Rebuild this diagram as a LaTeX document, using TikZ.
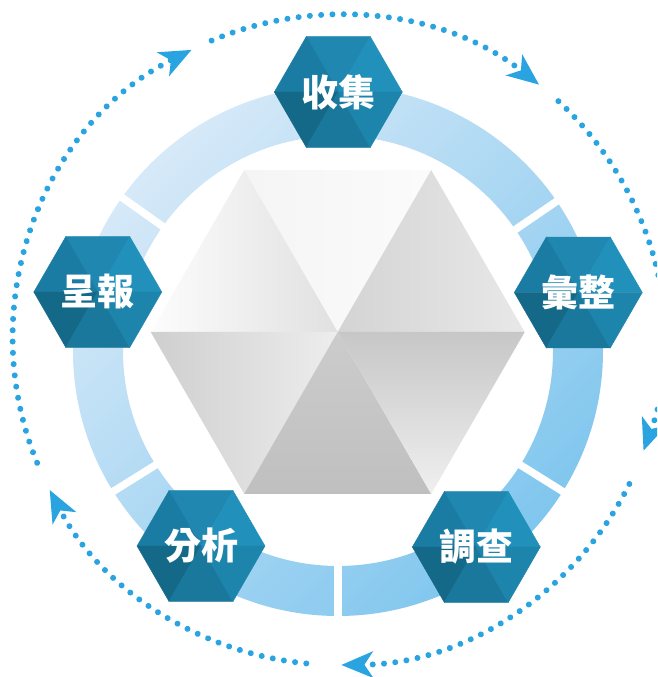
\documentclass[tikz,border=0pt]{standalone}
\usepackage{fontspec}
\newfontfamily\cjk{Noto Sans CJK TC}
\usetikzlibrary{arrows.meta}
\definecolor{dotblue}{HTML}{29A4E0}
\definecolor{ringA}{HTML}{D6E9F8}
\definecolor{ringB}{HTML}{80C6EE}
\definecolor{hT}{HTML}{1F87B0}
\definecolor{hUL}{HTML}{1B7CA3}
\definecolor{hUR}{HTML}{2191BB}
\definecolor{hLL}{HTML}{156988}
\definecolor{hB}{HTML}{19789C}
\definecolor{hLR}{HTML}{1D84AB}
\tikzset{
  dotline/.style={draw=dotblue, line width=6pt, line cap=round,
    dash pattern=on 0.01pt off 11.3pt,
    -{Stealth[length=32pt,width=27pt,inset=9pt,line width=0pt]}},
  gapline/.style={draw=white, line width=7.5pt},
  tri/.style={line width=0.4pt},
  lbl/.style={text=white, font=\cjk\bfseries\fontsize{37}{37}\selectfont, inner sep=0pt},
  hexpic/.pic={
    \fill[hT,draw=hT,tri] (0,0) -- (60:64) -- (120:64) -- cycle;
    \fill[hUL,draw=hUL,tri] (0,0) -- (120:64) -- (180:64) -- cycle;
    \fill[hUR,draw=hUR,tri] (0,0) -- (0:64) -- (60:64) -- cycle;
    \fill[hLL,draw=hLL,tri] (0,0) -- (180:64) -- (240:64) -- cycle;
    \fill[hB,draw=hB,tri] (0,0) -- (240:64) -- (300:64) -- cycle;
    \fill[hLR,draw=hLR,tri] (0,0) -- (300:64) -- (360:64) -- cycle;
  }
}
\begin{document}
\begin{tikzpicture}[x=1pt,y=1pt]
\useasboundingbox (0,0) rectangle (657,677);
\clip (0,0) rectangle (657,677);
\coordinate (rc) at (338,326);
\coordinate (dc) at (338,337);
% ring
\shade[even odd rule, top color=ringA, bottom color=ringB, shading angle=45]
  (rc) circle[radius=265pt] (rc) circle[radius=215pt];
\foreach \a in {34.4,90,144.6,212,270,328}
  \draw[gapline] ([shift={(\a:205pt)}]rc) -- ([shift={(\a:275pt)}]rc);
% dotted arcs
\draw[dotline] ([shift={(112.9:325pt)}]dc) arc[start angle=112.9, end angle=51.8, radius=325pt];
\draw[dotline] ([shift={(47.3:325pt)}]dc) arc[start angle=47.3, end angle=-19.9, radius=325pt];
\draw[dotline] ([shift={(-26.3:325pt)}]dc) arc[start angle=-26.3, end angle=-89.4, radius=325pt];
\draw[dotline] ([shift={(-95.6:325pt)}]dc) arc[start angle=-95.6, end angle=-152.5, radius=325pt];
\draw[dotline] ([shift={(-157.8:325pt)}]dc) arc[start angle=-157.8, end angle=-243.2, radius=325pt];
% big hexagon
\begin{scope}[shift={(337.7,345)}]
  \shade[left color=gray!8, right color=gray!3] (0,0) -- (60:187) -- (120:187) -- cycle;
  \shade[left color=black!1, right color=black!12] (0,0) -- (120:187) -- (180:187) -- cycle;
  \shade[left color=black!17, right color=black!9] (0,0) -- (0:187) -- (60:187) -- cycle;
  \shade[left color=black!19, right color=black!7] (0,0) -- (180:187) -- (240:187) -- cycle;
  \shade[top color=black!20, bottom color=black!25] (0,0) -- (240:187) -- (300:187) -- cycle;
  \shade[top color=black!22, bottom color=black!6] (0,0) -- (300:187) -- (360:187) -- cycle;
\end{scope}
% small hexagons
\pic at (338.3,585) {hexpic};
\pic at (578.3,384.5) {hexpic};
\pic at (476.3,130) {hexpic};
\pic at (201,131) {hexpic};
\pic at (97.8,385) {hexpic};
\node[lbl] (shouji) at (338.3,585) {收集};
\node[lbl] (huizheng) at (578.3,384.5) {彙整};
\node[lbl] (diaocha) at (476.3,130) {調查};
\node[lbl] (fenxi) at (201,131) {分析};
\node[lbl] (chengbao) at (97.8,385) {呈報};
\end{tikzpicture}
\end{document}
